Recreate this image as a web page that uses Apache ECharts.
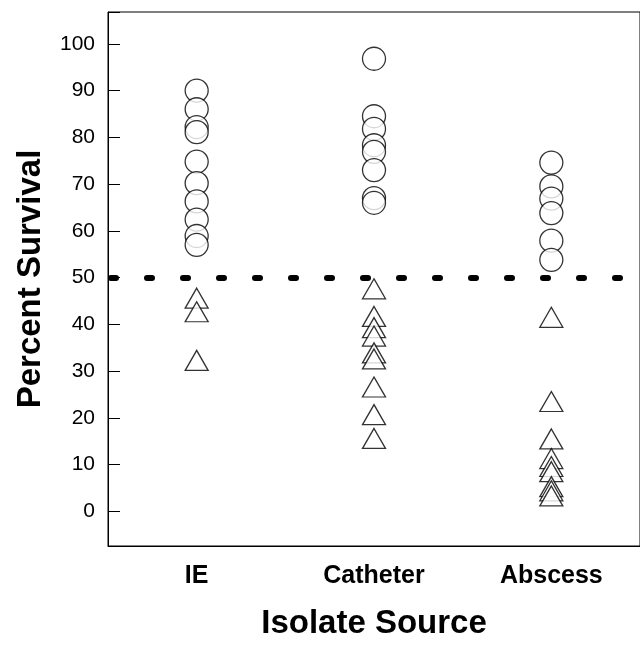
<!DOCTYPE html>
<html>
<head>
<meta charset="utf-8">
<script src="https://cdn.jsdelivr.net/npm/echarts@6/dist/echarts.min.js"></script>
<style>
html,body{margin:0;padding:0;background:#fff;}
#chart{width:640px;height:645px;}
</style>
</head>
<body>
<div id="chart"></div>
<script>
const categories = ['IE', 'Catheter', 'Abscess'];
const ieCircles = [90, 86, 82.2, 81.1, 74.8, 70.2, 66.3, 62.4, 58.9, 57];
const ieTriangles = [45.6, 42.7, 32.3];
const catheterCircles = [96.8, 84.5, 81.8, 78.3, 76.9, 73, 67, 66];
const catheterTriangles = [47.6, 41.7, 39.3, 37.5, 33.9, 32.6, 26.6, 20.7, 15.6];
const abscessCircles = [74.6, 69.5, 66.9, 63.8, 57.9, 53.8];
const abscessTriangles = [41.5, 23.5, 15.5, 11.3, 9.6, 8.5, 5.3, 4.4, 3.3];
const thresholdValue = 50;
const yMin = -7.4, yMax = 106.8, yStep = 10;
const xTitle = 'Isolate Source';
const yTitle = 'Percent Survival';

const FONT = "'Liberation Sans', Arial, sans-serif";
const circleGroups = [ieCircles, catheterCircles, abscessCircles];
const triangleGroups = [ieTriangles, catheterTriangles, abscessTriangles];

function toPoints(groups) {
  const pts = [];
  groups.forEach((vals, ci) => vals.forEach(v => pts.push([categories[ci], v])));
  return pts;
}

const markerStyle = { color: '#ffffff', borderColor: '#000000', borderWidth: 1.3 };

const chart = echarts.init(document.getElementById('chart'), null, { renderer: 'canvas' });
chart.setOption({
  animation: false,
  backgroundColor: '#ffffff',
  grid: {
    left: 108, top: 12, width: 537, height: 540,
    show: true, borderColor: '#000', borderWidth: 1, backgroundColor: 'transparent'
  },
  xAxis: {
    type: 'category',
    data: categories,
    boundaryGap: true,
    axisLine: { onZero: false, lineStyle: { color: '#000', width: 1 } },
    axisTick: { inside: true, alignWithLabel: true, length: 11, lineStyle: { color: '#000' } },
    axisLabel: { color: '#000', fontFamily: FONT, fontWeight: 'bold', fontSize: 25, margin: 18 },
    name: xTitle,
    nameLocation: 'middle',
    nameGap: 61,
    nameTextStyle: { color: '#000', fontFamily: FONT, fontWeight: 'bold', fontSize: 33 },
    splitLine: { show: false }
  },
  yAxis: {
    type: 'value',
    min: yMin,
    max: yMax,
    minInterval: yStep,
    maxInterval: yStep,
    splitNumber: 12,
    axisLine: { show: true, onZero: false, lineStyle: { color: '#000', width: 1 } },
    axisTick: { show: true, inside: true, length: 12, lineStyle: { color: '#000' } },
    axisLabel: {
      color: '#000', fontFamily: FONT, fontSize: 21, margin: 13,
      formatter: v => (Math.abs(v % yStep) < 1e-6 ? String(v) : '')
    },
    splitLine: { show: false },
    name: yTitle,
    nameLocation: 'middle',
    nameGap: 61,
    nameRotate: 90,
    nameTextStyle: { color: '#000', fontFamily: FONT, fontWeight: 'bold', fontSize: 33 }
  },
  series: [
    {
      type: 'scatter',
      name: 'circles',
      symbol: 'circle',
      symbolSize: 23,
      itemStyle: markerStyle,
      emphasis: { disabled: true },
      data: toPoints(circleGroups),
      z: 3
    },
    {
      type: 'scatter',
      name: 'triangles',
      symbol: 'triangle',
      symbolSize: [23, 20],
      itemStyle: markerStyle,
      emphasis: { disabled: true },
      data: toPoints(triangleGroups),
      z: 3,
      markLine: {
        silent: true,
        symbol: 'none',
        label: { show: false },
        lineStyle: { color: '#000', width: 6, type: [5, 31], dashOffset: -3, cap: 'round' },
        data: [{ yAxis: thresholdValue }],
        z: 4
      }
    }
  ]
});
</script>
</body>
</html>
